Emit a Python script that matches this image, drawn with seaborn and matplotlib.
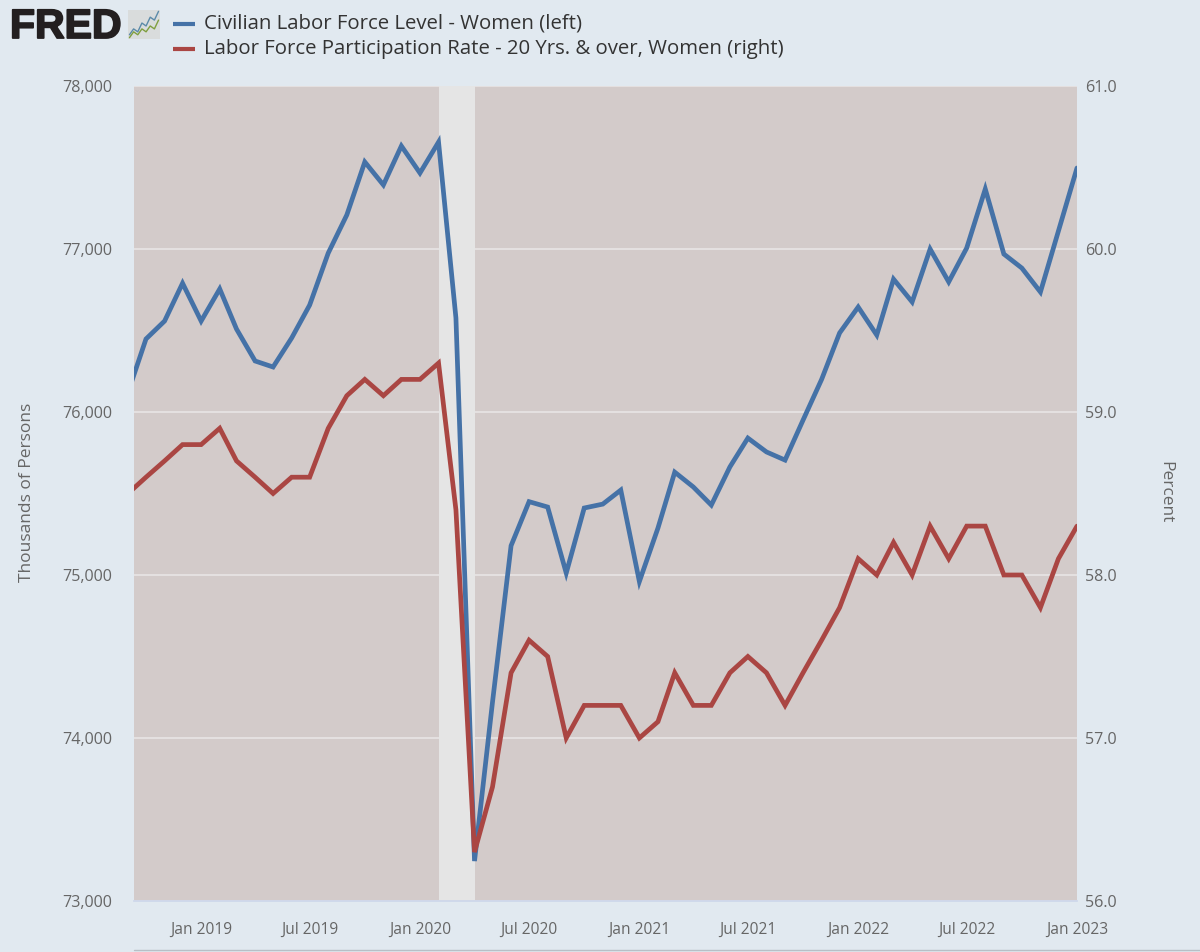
"""FRED chart: women's labor force level and participation rate."""

import matplotlib
matplotlib.use("Agg")
import matplotlib.pyplot as plt
import matplotlib.dates as mdates
import matplotlib.patheffects as pe
import pandas as pd
import seaborn as sns

# ── data ──────────────────────────────────────────────────────────────────
months = pd.date_range("2018-09-01", "2023-01-01", freq="MS")

labor_force = [
    76120, 76448, 76558, 76790,
    76558, 76755, 76509, 76313, 76276, 76454, 76656, 76975, 77209, 77534, 77393, 77632,
    77466, 77656, 76577, 73245, 74220, 75180, 75450, 75417, 75012, 75411, 75435, 75521,
    74960, 75288, 75631, 75540, 75429, 75663, 75840, 75755, 75705, 75950, 76200, 76485,
    76644, 76472, 76815, 76675, 77000, 76798, 77006, 77368, 76969, 76883, 76736, 77110,
    77497,
]
participation = [
    58.5, 58.6, 58.7, 58.8,
    58.8, 58.9, 58.7, 58.6, 58.5, 58.6, 58.6, 58.9, 59.1, 59.2, 59.1, 59.2,
    59.2, 59.3, 58.4, 56.3, 56.7, 57.4, 57.6, 57.5, 57.0, 57.2, 57.2, 57.2,
    57.0, 57.1, 57.4, 57.2, 57.2, 57.4, 57.5, 57.4, 57.2, 57.4, 57.6, 57.8,
    58.1, 58.0, 58.2, 58.0, 58.3, 58.1, 58.3, 58.3, 58.0, 58.0, 57.8, 58.1,
    58.3,
]
left_ticks = [73000, 74000, 75000, 76000, 77000, 78000]
right_ticks = [56.0, 57.0, 58.0, 59.0, 60.0, 61.0]
date_ticks = ["2019-01-01", "2019-07-01", "2020-01-01", "2020-07-01", "2021-01-01",
              "2021-07-01", "2022-01-01", "2022-07-01", "2023-01-01"]
recession = ["2020-02-01", "2020-04-01"]
legend_labels = ["Civilian Labor Force Level - Women (left)",
                 "Labor Force Participation Rate - 20 Yrs. & over, Women (right)"]

# logo sparkline values
icon_blue = [1, 3, 2, 5, 4, 7, 6, 9]
icon_green = [0, 2, 1, 3, 2, 4, 3, 6]

# ── colour palette ────────────────────────────────────────────────────────
PAGE_BG = "#e1e9f0"
PLOT_BG = "#d3cbca"
BAND = "#e5e5e5"
GRID = "#e6e3e3"
AXIS = "#ccd6eb"
BLUE = "#4572a7"
RED = "#aa4643"
TICK_TEXT = "#666666"
LEGEND_TEXT = "#333333"

W, H = 1200, 952

sns.set_theme(style="white")
plt.rcParams["font.family"] = ["Open Sans", "DejaVu Sans"]

df = pd.DataFrame({"date": months, "level": labor_force, "rate": participation})

fig = plt.figure(figsize=(W / 100, H / 100), dpi=100, facecolor=PAGE_BG)
ax = fig.add_axes([134 / W, 1 - 901 / H, (1077 - 134) / W, (901 - 86) / H])
ax.set_facecolor(PLOT_BG)

ax.yaxis.grid(True, color=GRID, lw=1.3)
ax.set_axisbelow(True)
ax.axvspan(pd.Timestamp(recession[0]), pd.Timestamp(recession[1]), color=BAND, lw=0, zorder=1)

sns.lineplot(data=df, x="date", y="level", ax=ax, color=BLUE, lw=3.4, zorder=3,
             solid_joinstyle="miter")
ax.set_xlim(pd.Timestamp("2018-09-11"), pd.Timestamp("2023-01-01"))
ax.set_ylim(73000, 78000)
ax.set_yticks(left_ticks)
ax.set_yticklabels([f"{v:,}" for v in left_ticks])

ax2 = ax.twinx()
sns.lineplot(data=df, x="date", y="rate", ax=ax2, color=RED, lw=3.4, zorder=3,
             solid_joinstyle="miter")
ax2.set_ylim(56, 61)
ax2.set_yticks(right_ticks)
ax2.set_yticklabels([f"{v:.1f}" for v in right_ticks])
ax2.grid(False)

ax.set_xticks(pd.to_datetime(date_ticks))
ax.xaxis.set_major_formatter(mdates.DateFormatter("%b %Y"))

ax.set_xlabel("")
ax.set_ylabel("")
ax2.set_ylabel("")

for a in (ax, ax2):
    for side in a.spines:
        a.spines[side].set_visible(False)
ax.spines["bottom"].set_visible(True)
ax.spines["bottom"].set_color(AXIS)
ax.spines["bottom"].set_linewidth(1.2)

ax.tick_params(axis="x", length=10, width=1, color=AXIS, labelcolor=TICK_TEXT,
               labelsize=11.2, pad=5)
ax.tick_params(axis="y", length=0, labelcolor=TICK_TEXT, labelsize=11.6, pad=16)
ax2.tick_params(axis="y", length=0, labelcolor=TICK_TEXT, labelsize=11.6, pad=6)

fig.text(27 / W, 1 - 492 / H, "Thousands of Persons", rotation=90, color=TICK_TEXT,
         fontsize=12.5, ha="center", va="center")
fig.text(1165 / W, 1 - 492 / H, "Percent", rotation=270, color=TICK_TEXT,
         fontsize=12.5, ha="center", va="center")

# legend
for y, colour, label in zip((24, 49), (BLUE, RED), legend_labels):
    fig.add_artist(plt.Line2D([173 / W, 195 / W], [1 - y / H] * 2, color=colour, lw=3,
                              solid_capstyle="butt"))
    fig.text(204 / W, 1 - y / H, label, color=LEGEND_TEXT, fontsize=14.65,
             ha="left", va="center")

# FRED logo
logo = fig.text(10 / W, 1 - 27 / H, "FRED", color="#231f20", fontsize=29.5, fontweight="bold",
                family=["Liberation Sans", "DejaVu Sans"], ha="left", va="center")
logo.set_path_effects([pe.withStroke(linewidth=1.3, foreground="#231f20")])
icon = fig.add_axes([128 / W, 1 - 39 / H, 32 / W, 29 / H])
icon.set_facecolor("#d9dcdc")
icon.plot(icon_blue, color="#5b8aa8", lw=1)
icon.plot(icon_green, color="#7f9f3f", lw=1)
icon.set_xticks([])
icon.set_yticks([])
for side in icon.spines:
    icon.spines[side].set_visible(False)

# thin rule along the bottom edge
fig.add_artist(plt.Line2D([134 / W, 1], [1 - 950 / H] * 2, color="#b8bfc6", lw=1))

fig.savefig("out.png", dpi=100, facecolor=PAGE_BG)
plt.close(fig)
